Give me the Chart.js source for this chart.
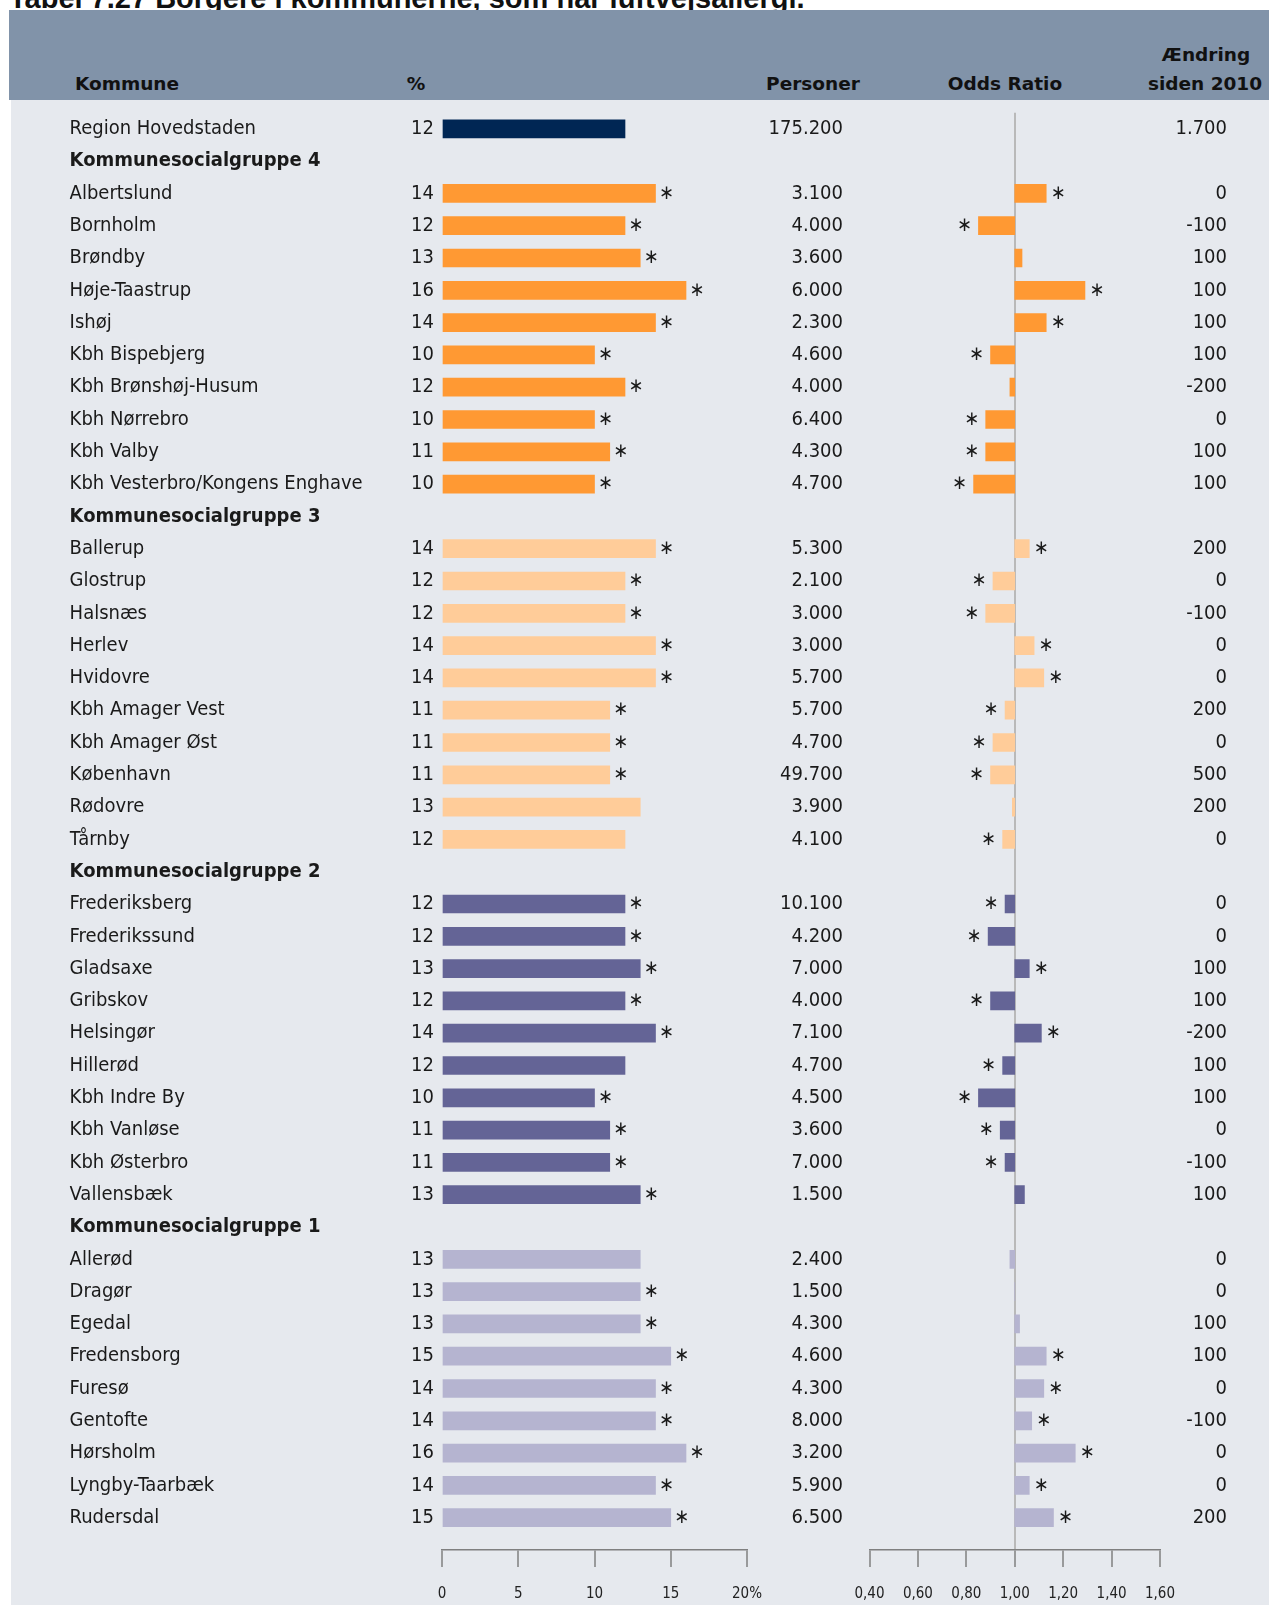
<!DOCTYPE html>
<html>
<head>
<meta charset="utf-8">
<script src="https://cdn.jsdelivr.net/npm/chart.js@4.4.1/dist/chart.umd.min.js"></script>
<style>
html,body{margin:0;padding:0;background:#fff;width:1269px;height:1605px;overflow:hidden;position:relative;}
#title{position:absolute;left:9px;top:-16px;font:bold 29px 'Liberation Sans',Arial,sans-serif;line-height:29px;color:#111;white-space:nowrap;z-index:1;}
#band{position:absolute;left:9px;top:10px;width:1260px;height:90px;background:#8193a9;z-index:2;}
#panel{position:absolute;left:11px;top:100px;width:1258px;height:1505px;background:#e6e9ee;z-index:2;}
.h{position:absolute;font:bold 18.5px 'DejaVu Sans',sans-serif;color:#111;white-space:nowrap;transform:translate(-50%,-50%);z-index:3;}
.wrap{position:absolute;left:0;top:0;width:1269px;height:1605px;z-index:4;}
</style>
</head>
<body>
<div id="title">Tabel 7.27 Borgere i kommunerne, som har luftvejsallergi.</div>
<div id="band"></div>
<div id="panel"></div>
<div class="h" style="left:127px;top:83px">Kommune</div>
<div class="h" style="left:416px;top:83px">%</div>
<div class="h" style="left:813px;top:83px">Personer</div>
<div class="h" style="left:1005px;top:83px">Odds Ratio</div>
<div class="h" style="left:1206px;top:54px">Ændring</div>
<div class="h" style="left:1205px;top:83px">siden 2010</div>
<div class="wrap"><canvas id="c1"></canvas></div>
<div class="wrap"><canvas id="c2"></canvas></div>
<script>
// ---------- DATA ----------
const kommuner = ["Region Hovedstaden","Kommunesocialgruppe 4","Albertslund","Bornholm","Brøndby","Høje-Taastrup","Ishøj","Kbh Bispebjerg","Kbh Brønshøj-Husum","Kbh Nørrebro","Kbh Valby","Kbh Vesterbro/Kongens Enghave","Kommunesocialgruppe 3","Ballerup","Glostrup","Halsnæs","Herlev","Hvidovre","Kbh Amager Vest","Kbh Amager Øst","København","Rødovre","Tårnby","Kommunesocialgruppe 2","Frederiksberg","Frederikssund","Gladsaxe","Gribskov","Helsingør","Hillerød","Kbh Indre By","Kbh Vanløse","Kbh Østerbro","Vallensbæk","Kommunesocialgruppe 1","Allerød","Dragør","Egedal","Fredensborg","Furesø","Gentofte","Hørsholm","Lyngby-Taarbæk","Rudersdal"];
const gruppe = [0,null,4,4,4,4,4,4,4,4,4,4,null,3,3,3,3,3,3,3,3,3,3,null,2,2,2,2,2,2,2,2,2,2,null,1,1,1,1,1,1,1,1,1];
const procent = [12,null,14,12,13,16,14,10,12,10,11,10,null,14,12,12,14,14,11,11,11,13,12,null,12,12,13,12,14,12,10,11,11,13,null,13,13,13,15,14,14,16,14,15];
const procentSignifikant = [0,null,1,1,1,1,1,1,1,1,1,1,null,1,1,1,1,1,1,1,1,0,0,null,1,1,1,1,1,0,1,1,1,1,null,0,1,1,1,1,1,1,1,1];
const personer = [175200,null,3100,4000,3600,6000,2300,4600,4000,6400,4300,4700,null,5300,2100,3000,3000,5700,5700,4700,49700,3900,4100,null,10100,4200,7000,4000,7100,4700,4500,3600,7000,1500,null,2400,1500,4300,4600,4300,8000,3200,5900,6500];
const oddsRatio = [null,null,1.13,0.85,1.03,1.29,1.13,0.90,0.98,0.88,0.88,0.83,null,1.06,0.91,0.88,1.08,1.12,0.96,0.91,0.90,0.99,0.95,null,0.96,0.89,1.06,0.90,1.11,0.95,0.85,0.94,0.96,1.04,null,0.98,1.00,1.02,1.13,1.12,1.07,1.25,1.06,1.16];
const oddsSignifikant = [0,null,1,1,0,1,1,1,0,1,1,1,null,1,1,1,1,1,1,1,1,0,1,null,1,1,1,1,1,1,1,1,1,0,null,0,0,0,1,1,1,1,1,1];
const aendring = [1700,null,0,-100,100,100,100,100,-200,0,100,100,null,200,0,-100,0,0,200,0,500,200,0,null,0,0,100,100,-200,100,100,0,-100,100,null,0,0,100,100,0,-100,0,0,200];
const procentTicks = [0,5,10,15,20];
const oddsTicks = [0.4,0.6,0.8,1.0,1.2,1.4,1.6];

// ---------- STYLE ----------
const palette = {0:'#002654',4:'#ff9933',3:'#ffcc99',2:'#646496',1:'#b5b4d0'};
const mctx = document.createElement('canvas').getContext('2d');
mctx.font = "20px 'DejaVu Sans Condensed', monospace";
const w1 = mctx.measureText('Kbh Vesterbro').width;
mctx.font = "20px monospace";
const w2 = mctx.measureText('Kbh Vesterbro').width;
const hasCond = Math.abs(w1 - w2) > 0.5;
const FAM = hasCond ? "'DejaVu Sans Condensed', 'DejaVu Sans', sans-serif" : "'DejaVu Sans', sans-serif";
const BODY = hasCond ? 20 : 18;
const TICKF = hasCond ? 15 : 14;
const TXT = '#1a1a1a';
const AXIS = '#7f7f7f';

function fmt(n){
  const s = Math.abs(n).toString().replace(/\B(?=(\d{3})+(?!\d))/g,'.');
  return (n < 0 ? '-' : '') + s;
}
const rowIdx = kommuner.map((_, i) => i);
const pctPoints = [];
const orPoints = [];
kommuner.forEach((_, i) => {
  if (procent[i] !== null) pctPoints.push({x: procent[i], y: i});
  if (oddsRatio[i] !== null) orPoints.push({x: [1, oddsRatio[i]], y: i});
});

const Y_MIN = -0.5, Y_MAX = 44;
const TOP = 112.65;

const textPlugin = {
  id: 'cols',
  afterDraw(chart) {
    const ctx = chart.ctx, ys = chart.scales.y, xs = chart.scales.x;
    ctx.save();
    ctx.fillStyle = TXT;
    ctx.textBaseline = 'middle';
    ctx.font = BODY + 'px ' + FAM;
    kommuner.forEach((_, i) => {
      const y = ys.getPixelForValue(i);
      if (procent[i] !== null) {
        ctx.textAlign = 'right';
        ctx.fillText(String(procent[i]), 434, y);
      }
      if (personer[i] !== null) {
        ctx.textAlign = 'right';
        ctx.fillText(fmt(personer[i]), 843, y);
      }
      if (aendring[i] !== null) {
        ctx.textAlign = 'right';
        ctx.fillText(fmt(aendring[i]), 1227, y);
      }
      if (procentSignifikant[i]) {
        ctx.textAlign = 'center';
        ctx.fillText('∗', xs.getPixelForValue(procent[i]) + 11, y);
      }
    });
    ctx.restore();
  }
};

const starPlugin = {
  id: 'orstars',
  afterDraw(chart) {
    const ctx = chart.ctx, ys = chart.scales.y, xs = chart.scales.x;
    ctx.save();
    ctx.fillStyle = TXT;
    ctx.textBaseline = 'middle';
    ctx.textAlign = 'center';
    ctx.font = BODY + 'px ' + FAM;
    kommuner.forEach((_, i) => {
      if (!oddsSignifikant[i]) return;
      const y = ys.getPixelForValue(i);
      const px = xs.getPixelForValue(oddsRatio[i]);
      const x = oddsRatio[i] >= 1 ? px + 12 : px - 14;
      ctx.fillText('∗', x, y);
    });
    ctx.restore();
  }
};

Chart.defaults.font.family = FAM;

function yScale(show) {
  return {
    type: 'linear', reverse: true, min: Y_MIN, max: Y_MAX, offset: false,
    display: show,
    afterBuildTicks: s => { s.ticks = rowIdx.map(v => ({value: v})); },
    afterFit: s => { if (show) s.width = 442 - 69.6; },
    grid: {display: false}, border: {display: false},
    ticks: {
      crossAlign: 'far', padding: 0, autoSkip: false, color: TXT,
      font: ctx => ({family: FAM, size: BODY, weight: (procent[ctx.index] === null) ? 'bold' : 'normal'}),
      callback: v => kommuner[v]
    }
  };
}

function xScale(min, max, ticksArr, labelFn, gridColorFn) {
  return {
    type: 'linear', min: min, max: max, position: 'bottom', offset: false,
    afterBuildTicks: s => { s.ticks = ticksArr.map(v => ({value: v})); },
    afterFit: s => { s.height = 55; },
    grid: {
      drawOnChartArea: !!gridColorFn, drawTicks: true, tickLength: 17,
      tickColor: AXIS, tickWidth: 1.5,
      color: gridColorFn || 'rgba(0,0,0,0)', lineWidth: 2
    },
    border: {display: true, color: AXIS, width: 1.5},
    ticks: {padding: 18, color: '#222', maxRotation: 0, autoSkip: false,
      font: {family: FAM, size: TICKF}, callback: labelFn}
  };
}

new Chart(document.getElementById('c1'), {
  type: 'bar',
  data: {datasets: [{
    data: pctPoints,
    backgroundColor: ctx => palette[gruppe[ctx.raw.y]],
    borderWidth: 0, barThickness: 18
  }]},
  options: {
    indexAxis: 'y', responsive: true, maintainAspectRatio: false, animation: false,
    layout: {padding: {left: 69.6, right: 1269 - 747, top: TOP, bottom: 0}},
    plugins: {legend: {display: false}, tooltip: {enabled: false}},
    scales: {
      x: xScale(0, 20, procentTicks, v => v === 20 ? '20%' : String(v), null),
      y: yScale(true)
    }
  },
  plugins: [textPlugin]
});

new Chart(document.getElementById('c2'), {
  type: 'bar',
  data: {datasets: [{
    data: orPoints,
    backgroundColor: ctx => palette[gruppe[ctx.raw.y]],
    borderWidth: 0, barThickness: 18
  }]},
  options: {
    indexAxis: 'y', responsive: true, maintainAspectRatio: false, animation: false,
    layout: {padding: {left: 869.5, right: 1269 - 1160, top: TOP, bottom: 0}},
    plugins: {legend: {display: false}, tooltip: {enabled: false}},
    scales: {
      x: xScale(0.4, 1.6, oddsTicks, v => v.toFixed(2).replace('.', ','),
        ctx => (ctx.tick && Math.abs(ctx.tick.value - 1) < 1e-9) ? '#b9b9b9' : 'rgba(0,0,0,0)'),
      y: yScale(false)
    }
  },
  plugins: [starPlugin]
});
</script>
</body>
</html>
